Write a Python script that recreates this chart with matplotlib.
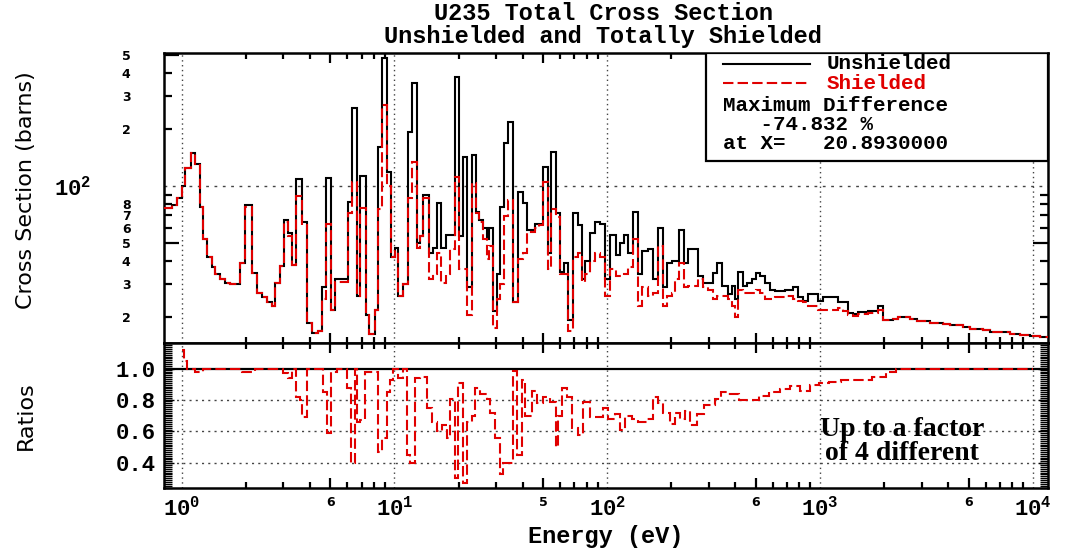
import matplotlib
matplotlib.use("Agg")
import matplotlib.pyplot as plt
from matplotlib.ticker import FixedLocator, FixedFormatter, NullLocator, MultipleLocator
from matplotlib.lines import Line2D
from matplotlib.patches import Rectangle

# ---------------- data ----------------
energy_edges = [
    0.826, 0.900, 0.950, 1.003, 1.036, 1.106, 1.155, 1.219, 1.259, 1.315,
    1.388, 1.434, 1.514, 1.598, 1.687, 1.879, 1.984, 2.140, 2.259, 2.385,
    2.517, 2.657, 2.745, 2.897, 3.025, 3.158, 3.298, 3.444, 3.675, 3.880,
    4.096, 4.370, 4.563, 4.765, 5.029, 5.252, 6.046, 6.314, 6.665, 6.884,
    7.345, 7.588, 8.096, 8.363, 8.737, 9.222, 9.630, 10.06, 10.39, 10.96,
    11.57, 12.08, 12.76, 13.18, 13.61, 14.53, 15.17, 15.84, 16.54, 17.46,
    18.23, 19.24, 20.10, 20.98, 21.91, 23.13, 24.15, 24.95, 26.06, 27.21,
    27.81, 29.04, 30.32, 31.32, 32.70, 34.15, 36.05, 38.05, 40.17, 41.95,
    44.28, 45.74, 47.75, 49.87, 52.64, 54.37, 57.41, 59.95, 62.59, 65.36,
    69.01, 72.84, 76.06, 78.57, 82.94, 87.55, 92.40, 97.54, 103.0, 109.9,
    114.7, 119.8, 125.1, 132.1, 139.4, 145.6, 155.4, 164.0, 173.1, 182.7,
    190.8, 201.4, 208.1, 217.3, 229.4, 239.5, 266.9, 281.7, 297.4, 313.9,
    327.8, 346.0, 369.2, 385.5, 398.2, 411.3, 434.2, 453.4, 478.6, 499.8,
    522.0, 550.9, 581.5, 614.0, 684.1, 746.0, 787.5, 831.3, 877.6, 977.5,
    1032, 1150, 1214, 1281, 1352, 1427, 1507, 1679, 1872, 1975,
    2201, 2323, 2646, 2854, 3285, 3781, 4078, 4694, 5063, 5828,
    6286, 7806, 8699, 9690, 10800, 11780,
]

unshielded = [
    76, 79, 86, 100, 125, 150, 131, 77, 52, 42,
    37, 34, 32, 30.5, 30, 39, 79, 34.5, 27, 25.5,
    24, 23, 30.5, 37.5, 66, 56, 38, 109, 64, 18.7,
    16.5, 17, 29, 110, 22, 32, 82, 260, 26, 113,
    20.5, 16.3, 22, 161, 480, 119, 42, 47, 26, 30,
    194, 354, 50, 54, 90, 44, 47, 81, 47, 55,
    55, 380, 54, 143, 29, 146, 73, 66, 60, 52,
    60, 21.5, 34, 77, 170, 219, 24, 93, 81, 58,
    58, 63, 63, 126, 44, 151, 72, 35, 39, 19.4,
    72, 62, 32, 40, 56, 64, 63, 32, 55, 43,
    50, 55, 44, 73, 34, 45, 46, 32, 60, 29,
    39, 40, 40, 58, 39, 46, 33, 30.5, 30.5, 34.5,
    39, 29.5, 26.5, 29.5, 25, 35, 29.5, 30.5, 32, 34.5,
    33, 30.5, 28, 27.5, 28, 29, 25.7, 24.5, 26.5, 24.5,
    25.5, 25.5, 24.2, 24, 21, 20.8, 21.3, 21.5, 23, 19.4,
    19.5, 20, 19.6, 19.2, 18.7, 18.5, 18.2, 17.8, 17.3, 17.1,
    16.8, 16.4, 16.1, 15.9, 15.7,
]

shielded = [
    76, 79, 86, 100, 125, 150, 131, 77, 52, 42,
    37, 34, 32, 30.5, 30, 39, 77, 34.5, 27, 25.5,
    24, 23, 30.5, 37.5, 64, 54, 38, 88, 62, 18.7,
    16.5, 17, 25, 63, 22, 31, 72, 105, 26, 76,
    20.5, 16.3, 22, 75, 270, 100, 42, 45, 26, 30,
    86, 134, 47, 54, 86, 32, 34, 44, 30.5, 34,
    46, 112, 36, 36, 20.5, 104, 72, 64, 52, 41,
    48, 17.5, 25, 30, 69, 84, 24, 41, 44, 57,
    57, 60, 62, 105, 36, 75, 68, 34, 34, 17,
    42, 44, 31, 34, 40, 44, 42, 26, 36, 33,
    33, 34, 37, 52, 23, 29, 26, 27, 48, 23,
    26, 27, 32, 39, 29, 29.5, 32, 29, 28, 25,
    26, 26, 25, 23, 20, 28, 27, 27, 27, 28,
    27, 25, 25, 25.5, 26, 25, 24.5, 24, 23, 22,
    22, 22, 22.5, 21.7, 20.5, 20.3, 20.8, 21, 21.8, 19.4,
    19.5, 20, 19.6, 19.2, 18.7, 18.5, 18.2, 17.8, 17.3, 17.1,
    16.8, 16.4, 16.1, 15.9, 15.7,
]

ratio_edges = [
    1.003, 1.025, 1.059, 1.155, 1.259, 1.920, 2.211, 2.992, 3.158, 3.298,
    3.444, 3.597, 3.675, 3.880, 4.613, 4.817, 5.029, 5.369, 5.981, 6.246,
    6.523, 6.665, 6.884, 7.266, 8.363, 8.737, 9.222, 9.526, 9.84, 10.39,
    10.96, 11.45, 11.83, 12.49, 13.18, 14.21, 15.01, 15.84, 16.72, 17.65,
    18.23, 19.24, 19.88, 20.98, 21.91, 23.13, 23.89, 25.22, 27.21, 28.10,
    29.67, 31.32, 32.36, 36.05, 37.64, 39.73, 41.05, 44.28, 46.73, 49.87,
    53.79, 57.41, 58.67, 61.25, 64.66, 68.26, 72.84, 76.88, 82.94, 95.46,
    100.8, 108.7, 114.7, 121.1, 130.7, 139.4, 153.7, 164.0, 173.1, 182.7,
    197.1, 208.1, 219.6, 231.9, 244.7, 264.0, 284.8, 320.7, 342.2, 369.2,
    415.8, 516.4, 575.3, 648.1, 722.2, 804.7, 896.7, 988.3, 1101, 1254,
    1754, 2040, 2273, 10000,
]

ratios = [
    1.12, 1.05, 1.0, 0.98, 1.0, 0.98, 1.0, 0.975, 0.94, 1.0,
    0.82, 0.80, 0.69, 1.0, 0.85, 0.59, 0.98, 1.0, 0.88, 0.40,
    1.0, 0.66, 0.67, 0.98, 0.47, 0.56, 0.85, 0.93, 1.0, 0.94,
    1.0, 0.45, 0.40, 0.94, 0.95, 0.75, 0.66, 0.60, 0.64, 0.56,
    0.81, 0.30, 0.91, 0.27, 0.66, 0.70, 0.88, 0.84, 0.81, 0.72,
    0.56, 0.33, 0.40, 0.99, 0.45, 0.93, 0.70, 0.86, 0.78, 0.82,
    0.79, 0.50, 0.70, 0.88, 0.82, 0.62, 0.58, 0.79, 0.69, 0.75,
    0.68, 0.71, 0.61, 0.70, 0.68, 0.66, 0.68, 0.82, 0.78, 0.72,
    0.65, 0.72, 0.68, 0.73, 0.64, 0.71, 0.77, 0.81, 0.85, 0.84,
    0.80, 0.83, 0.85, 0.87, 0.89, 0.86, 0.90, 0.91, 0.92, 0.93,
    0.95, 0.98, 1.0,
]

decades = [1, 10, 100, 1000, 10000]
decade_labels = [r"$\mathregular{10^{0}}$", r"$\mathregular{10^{1}}$", r"$\mathregular{10^{2}}$",
                 r"$\mathregular{10^{3}}$", r"$\mathregular{10^{4}}$"]
x_long_ticks = [5, 50, 500, 5000]
x_long_labels = ["6", "5", "6", "6"]
x_minor_mult = [2, 3, 4, 6, 7, 8, 9]
y_long_ticks = [50, 500]
y_long_labels = ["5", "5"]
y_minor_ticks = [20, 30, 40, 60, 70, 80, 90, 200, 300, 400]
y_minor_labels = ["2", "3", "4", "6", "7", "8", "", "2", "3", "4"]
ratio_ticks = [0.4, 0.6, 0.8, 1.0]
ratio_labels = ["0.4", "0.6", "0.8", "1.0"]
ratio_grid = [0.4, 0.6, 0.8]

title_text = "U235 Total Cross Section\nUnshielded and Totally Shielded"
legend_series = ["Unshielded", "Shielded"]
legend_info = "Maximum Difference\n   -74.832 %\nat X=   20.8930000"
note_text = "Up to a factor\nof 4 different"

# ---------------- style ----------------
plt.rcParams["mathtext.fontset"] = "custom"
plt.rcParams["mathtext.rm"] = "Liberation Mono:bold"
plt.rcParams["mathtext.it"] = "Liberation Mono:bold"
plt.rcParams["mathtext.bf"] = "Liberation Mono:bold"

MONO = "Liberation Mono"
RED = "#e00000"
GRID = "#444444"
BIG = 16
mono_kw = dict(fontfamily=MONO, fontweight="bold", fontsize=BIG)

W, H = 1066, 550
fig = plt.figure(figsize=(W / 100, H / 100), dpi=100)
L, R = 164, 1048
T1, B1, B2 = 52.7, 343, 488
ax1 = fig.add_axes([L / W, 1 - B1 / H, (R - L) / W, (B1 - T1) / H])
ax2 = fig.add_axes([L / W, 1 - B2 / H, (R - L) / W, (B2 - B1) / H], sharex=ax1)

for ax in (ax1, ax2):
    ax.set_xscale("log")
    for s in ax.spines.values():
        s.set_linewidth(1.8)

ax1.set_yscale("log")
ax1.set_xlim(0.826, 11780)
ax1.set_ylim(14.6, 512)
ax2.set_ylim(0.237, 1.167)

# ---- top panel ----
ax1.stairs(unshielded, energy_edges, baseline=None, color="black", lw=1.5, zorder=3)
ax1.stairs(shielded, energy_edges, baseline=None, color=RED, lw=1.5,
           linestyle=(0, (5, 2)), zorder=4)
for d in decades:
    ax1.axvline(d, color=GRID, lw=1.0, linestyle=(0, (1, 2.5)), zorder=1)
    ax2.axvline(d, color=GRID, lw=1.0, linestyle=(0, (1, 2.5)), zorder=1)
ax1.axhline(100, color=GRID, lw=1.0, linestyle=(0, (2, 4)), zorder=1)

# ---- ratio panel ----
ax2.axhline(1.0, color="black", lw=1.6, zorder=2)
for g in ratio_grid:
    ax2.axhline(g, color=GRID, lw=1.0, linestyle=(0, (1.5, 3)), zorder=1)
ax2.stairs(ratios, ratio_edges, baseline=None, color=RED, lw=1.5,
           linestyle=(0, (5, 2)), zorder=4)

# ---- x ticks (shared) ----
x_minor = [m * d for d in decades[:-1] for m in x_minor_mult]
ax2.xaxis.set_major_locator(FixedLocator(x_long_ticks))
ax2.xaxis.set_major_formatter(FixedFormatter(x_long_labels))
ax2.xaxis.set_minor_locator(FixedLocator(x_minor))
ax2.xaxis.set_minor_formatter(FixedFormatter([""] * len(x_minor)))
for ax in (ax1, ax2):
    ax.tick_params(axis="x", which="major", direction="in", length=7, width=1.6,
                   top=True, bottom=True)
    ax.tick_params(axis="x", which="minor", direction="in", length=4, width=1.6,
                   top=True, bottom=True)
ax1.tick_params(axis="x", which="both", labelbottom=False)
ax2.tick_params(axis="x", which="major", labelsize=9, pad=6)
for lab in ax2.get_xticklabels():
    lab.set_fontweight("bold")

secx = ax2.secondary_xaxis("bottom")
secx.set_xticks(decades, labels=decade_labels, **mono_kw)
secx.xaxis.set_minor_locator(NullLocator())
secx.tick_params(length=0, pad=6)
secx.spines["bottom"].set_visible(False)

# ---- y ticks top panel ----
ax1.yaxis.set_major_locator(FixedLocator(y_long_ticks))
ax1.yaxis.set_major_formatter(FixedFormatter(y_long_labels))
ax1.yaxis.set_minor_locator(FixedLocator(y_minor_ticks))
ax1.yaxis.set_minor_formatter(FixedFormatter(y_minor_labels))
ax1.tick_params(axis="y", which="major", direction="in", length=11, width=1.6,
                left=True, right=True, labelsize=9, pad=24)
ax1.tick_params(axis="y", which="minor", direction="in", length=6, width=1.6,
                left=True, right=True, labelsize=9, pad=24)
for lab in ax1.get_yticklabels(which="both"):
    lab.set_fontweight("bold")

secy = ax1.secondary_yaxis("left")
secy.set_yticks([100], labels=[decade_labels[2]], **mono_kw)
secy.yaxis.set_minor_locator(NullLocator())
secy.tick_params(length=0, pad=52)
secy.spines["left"].set_visible(False)

# ---- y ticks ratio panel ----
ax2.set_yticks(ratio_ticks, labels=ratio_labels, **mono_kw)
ax2.yaxis.set_minor_locator(MultipleLocator(0.012))
ax2.tick_params(axis="y", which="major", direction="in", length=7, width=1.0,
                left=True, right=True, pad=6)
ax2.tick_params(axis="y", which="minor", direction="in", length=6, width=1.0,
                color="black", left=True, right=True)

# ---- legend box ----
ax1.add_patch(Rectangle((0.613, 0.626), 0.387, 0.374, transform=ax1.transAxes,
                        facecolor="white", edgecolor="black", lw=1.6, zorder=6))
ax1.add_line(Line2D([0.632, 0.731], [0.962, 0.962], transform=ax1.transAxes,
                    color="black", lw=1.5, zorder=7))
ax1.add_line(Line2D([0.632, 0.731], [0.894, 0.894], transform=ax1.transAxes,
                    color=RED, lw=1.5, linestyle=(0, (5, 2)), zorder=7))
lkw = dict(transform=ax1.transAxes, family=MONO, weight="bold", fontsize=15,
           ha="left", zorder=8)
ax1.text(0.750, 0.962, legend_series[0], color="black", va="center", **lkw)
ax1.text(0.750, 0.894, legend_series[1], color=RED, va="center", **lkw)
ax1.text(0.632, 0.850, legend_info, color="black", va="top", linespacing=0.98, **lkw)

# ---- annotation ----
ax2.text(0.835, 0.32, note_text, transform=ax2.transAxes,
         ha="center", va="center", family="Liberation Serif", weight="bold",
         fontsize=20, linespacing=0.95, zorder=8)

# ---- titles / labels ----
fig.text(0.566, 0.955, title_text, ha="center", va="center", linespacing=0.98,
         family=MONO, weight="bold", fontsize=17)
fig.text(0.568, 0.024, "Energy (eV)", ha="center", va="center",
         family=MONO, weight="bold", fontsize=17)
fig.text(0.024, 0.655, "Cross Section (barns)", rotation=90, ha="center", va="center",
         family="DejaVu Sans", fontsize=16)
fig.text(0.024, 0.245, "Ratios", rotation=90, ha="center", va="center",
         family="DejaVu Sans", fontsize=16)

fig.savefig("out.png", dpi=100)
